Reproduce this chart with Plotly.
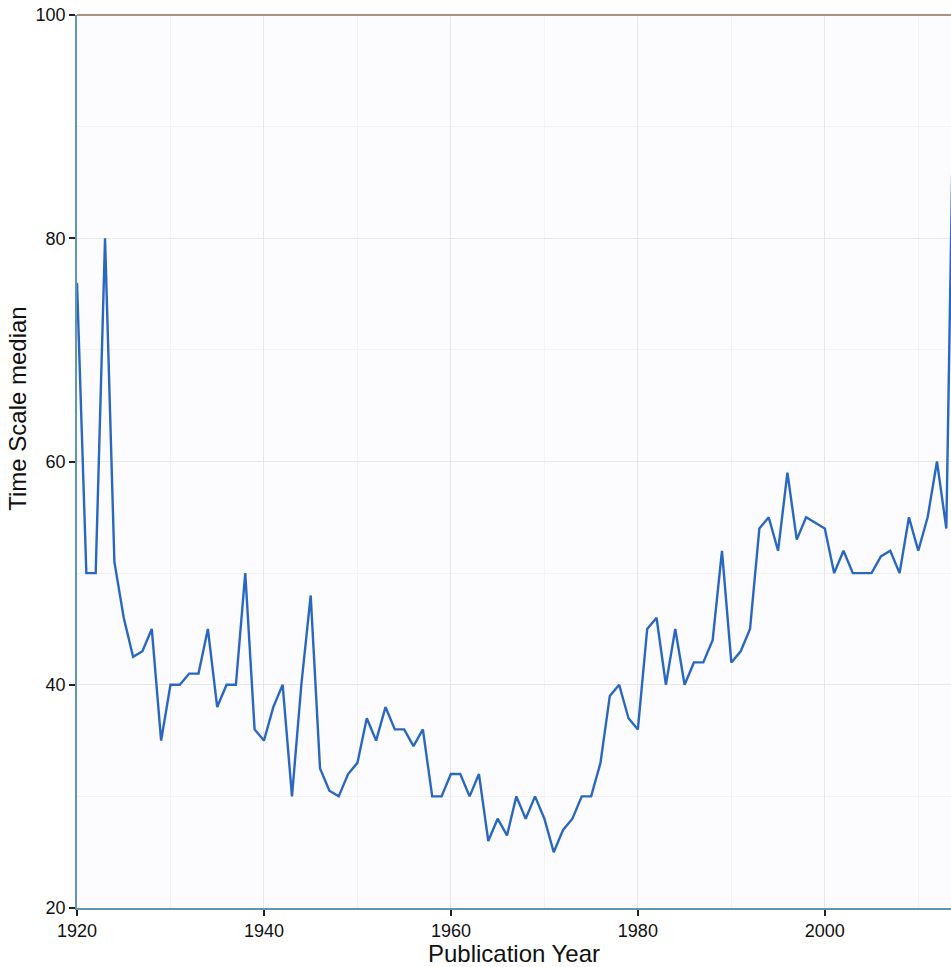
import plotly.graph_objects as go

years = list(range(1920, 2015))
medians = [
    76, 50, 50, 80, 51, 46, 42.5, 43, 45, 35,
    40, 40, 41, 41, 45, 38, 40, 40, 50, 36,
    35, 38, 40, 30, 40, 48, 32.5, 30.5, 30, 32,
    33, 37, 35, 38, 36, 36, 34.5, 36, 30, 30,
    32, 32, 30, 32, 26, 28, 26.5, 30, 28, 30,
    28, 25, 27, 28, 30, 30, 33, 39, 40, 37,
    36, 45, 46, 40, 45, 40, 42, 42, 44, 52,
    42, 43, 45, 54, 55, 52, 59, 53, 55, 54.5,
    54, 50, 52, 50, 50, 50, 51.5, 52, 50, 55,
    52, 55, 60, 54, 105,
]
x_ticks = [1920, 1940, 1960, 1980, 2000]
y_ticks = [20, 40, 60, 80, 100]

font_family = "Liberation Sans, Arial, sans-serif"

fig = go.Figure()
fig.add_trace(go.Scatter(
    x=years, y=medians, mode="lines",
    line=dict(color="#2a67c0", width=2.4),
    showlegend=False,
))

fig.update_layout(
    width=951, height=967,
    margin=dict(l=77, r=0, t=15, b=59),
    paper_bgcolor="#ffffff",
    plot_bgcolor="#fcfcfe",
    font=dict(family=font_family, size=18, color="#111111"),
    xaxis=dict(
        range=[1920, 2013.5],
        tickvals=x_ticks,
        ticks="outside", ticklen=6, tickwidth=1.5, tickcolor="#222222",
        showline=True, linecolor="#5f97ad", linewidth=1.5,
        showgrid=True, gridcolor="#e9e6e6", gridwidth=1,
        minor=dict(dtick=10, tick0=1930, showgrid=True, gridcolor="#f3f1f2", gridwidth=1),
        zeroline=False,
        title=dict(text="Publication Year", font=dict(size=24), standoff=0),
        tickfont=dict(size=18),
    ),
    yaxis=dict(
        range=[20, 100],
        tickvals=y_ticks,
        ticks="outside", ticklen=6, tickwidth=1.5, tickcolor="#222222",
        showline=True, linecolor="#5f97ad", linewidth=1.5,
        showgrid=True, gridcolor="#e9e6e6", gridwidth=1,
        minor=dict(dtick=10, tick0=30, showgrid=True, gridcolor="#f3f1f2", gridwidth=1),
        zeroline=False,
        tickfont=dict(size=18),
    ),
    annotations=[dict(
        text="Time Scale median", xref="paper", yref="paper",
        x=-0.0675, y=0.559, xanchor="center", yanchor="middle",
        textangle=-90, showarrow=False, font=dict(size=24),
    )],
    shapes=[dict(
        type="line", xref="paper", yref="paper",
        x0=0, x1=1, y0=1, y1=1,
        line=dict(color="#8a6f62", width=1.5),
    )],
)

fig.write_html(
    "out.html",
    config={"displayModeBar": False},
    post_script="document.body.style.margin='0';document.body.style.overflow='hidden';",
)
